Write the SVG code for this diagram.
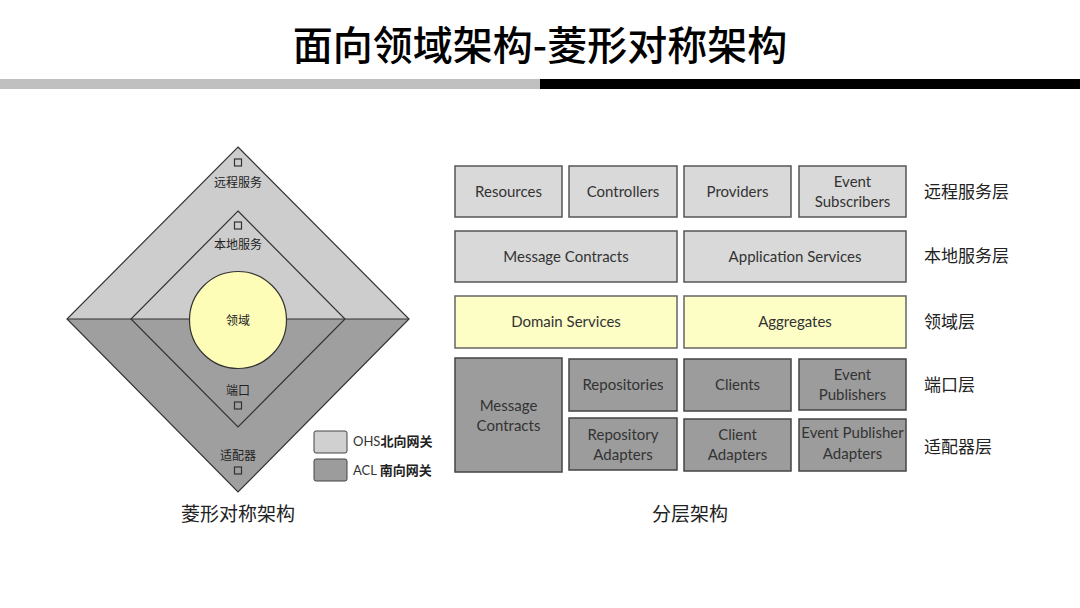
<svg xmlns="http://www.w3.org/2000/svg" width="1080" height="608" viewBox="0 0 1080 608">
<style>
.cjk{font-family:"Noto Sans CJK SC","Noto Sans",sans-serif;fill:#222}
.en{font-family:Lato,"Open Sans",sans-serif;font-size:15px;fill:#333;text-anchor:middle}
.lt{fill:#d9d9d9;stroke:#555;stroke-width:1.5}
.dk{fill:#9c9c9c;stroke:#444;stroke-width:1.5}
.yl{fill:#fdfdc6;stroke:#666;stroke-width:1.5}
.sq{fill:none;stroke:#333;stroke-width:1.2}
</style>
<rect width="1080" height="608" fill="#ffffff"/>
<text x="540" y="60" class="cjk" font-size="40" font-weight="500" text-anchor="middle" style="fill:#000">面向领域架构-菱形对称架构</text>
<rect x="0" y="79" width="540" height="10" fill="#c0c0c0"/>
<rect x="540" y="79" width="540" height="10" fill="#000"/>

<g id="diamond">
<polygon points="238,147 409,319 67,319" fill="#cdcdcd"/>
<polygon points="67,319 409,319 238,492" fill="#9f9f9f"/>
<polygon points="238,147 409,319 238,492 67,319" fill="none" stroke="#333" stroke-width="1.2"/>
<polygon points="238,211 345,319 238,427 131,319" fill="none" stroke="#333" stroke-width="1.2"/>
<line x1="67" y1="319" x2="409" y2="319" stroke="#333" stroke-width="1.2"/>
<circle cx="238" cy="320" r="48.5" fill="#fdfdb8" stroke="#333" stroke-width="1.2"/>
<rect x="234.5" y="159" width="7" height="7" class="sq"/>
<text x="238" y="187" class="cjk" font-size="12" text-anchor="middle">远程服务</text>
<rect x="234.5" y="222" width="7" height="7" class="sq"/>
<text x="238" y="249" class="cjk" font-size="12" text-anchor="middle">本地服务</text>
<text x="238" y="325" class="cjk" font-size="12" text-anchor="middle">领域</text>
<text x="238" y="395" class="cjk" font-size="12" text-anchor="middle">端口</text>
<rect x="234.5" y="402" width="7" height="7" class="sq"/>
<text x="238" y="460" class="cjk" font-size="12" text-anchor="middle">适配器</text>
<rect x="234.5" y="467" width="7" height="7" class="sq"/>
</g>

<g id="legend">
<rect x="314" y="431" width="33" height="22" rx="2" fill="#d0d0d0" stroke="#444" stroke-width="1"/>
<rect x="314" y="459" width="33" height="22" rx="2" fill="#9c9c9c" stroke="#444" stroke-width="1"/>
<text x="353" y="446" font-size="13" fill="#333"><tspan font-family="Lato,sans-serif">OHS</tspan><tspan class="cjk" font-weight="bold">北向网关</tspan></text>
<text x="353" y="475" font-size="13" fill="#333"><tspan font-family="Lato,sans-serif">ACL </tspan><tspan class="cjk" font-weight="bold">南向网关</tspan></text>
</g>
<text x="238" y="521" class="cjk" font-size="19" text-anchor="middle">菱形对称架构</text>

<g id="resources"><rect x="455" y="166" width="107" height="51" class="lt"/><text x="508.5" y="197" class="en">Resources</text></g>
<g id="controllers"><rect x="569" y="166" width="108" height="51" class="lt"/><text x="623" y="197" class="en">Controllers</text></g>
<g id="providers"><rect x="684" y="166" width="107" height="51" class="lt"/><text x="737.5" y="197" class="en">Providers</text></g>
<g id="eventSubscribers"><rect x="799" y="166" width="107" height="51" class="lt"/><text x="852.5" y="187" class="en">Event</text><text x="852.5" y="207" class="en">Subscribers</text></g>

<g id="messageContractsTop"><rect x="455" y="231" width="222" height="51" class="lt"/><text x="566" y="262" class="en">Message Contracts</text></g>
<g id="applicationServices"><rect x="684" y="231" width="222" height="51" class="lt"/><text x="795" y="262" class="en">Application Services</text></g>

<g id="domainServices"><rect x="455" y="296" width="222" height="52" class="yl"/><text x="566" y="327" class="en">Domain Services</text></g>
<g id="aggregates"><rect x="684" y="296" width="222" height="52" class="yl"/><text x="795" y="327" class="en">Aggregates</text></g>

<g id="messageContractsBottom"><rect x="455" y="358" width="107" height="114" class="dk"/><text x="508.5" y="411" class="en">Message</text><text x="508.5" y="431" class="en">Contracts</text></g>
<g id="repositories"><rect x="569" y="359" width="108" height="52" class="dk"/><text x="623" y="390" class="en">Repositories</text></g>
<g id="clients"><rect x="684" y="359" width="107" height="52" class="dk"/><text x="737.5" y="390" class="en">Clients</text></g>
<g id="eventPublishers"><rect x="799" y="359" width="107" height="51" class="dk"/><text x="852.5" y="380" class="en">Event</text><text x="852.5" y="400" class="en">Publishers</text></g>
<g id="repositoryAdapters"><rect x="569" y="418" width="108" height="52" class="dk"/><text x="623" y="440" class="en">Repository</text><text x="623" y="460" class="en">Adapters</text></g>
<g id="clientAdapters"><rect x="684" y="419" width="107" height="52" class="dk"/><text x="737.5" y="440" class="en">Client</text><text x="737.5" y="460" class="en">Adapters</text></g>
<g id="eventPublisherAdapters"><rect x="799" y="419" width="107" height="52" class="dk"/><text x="852.5" y="438" class="en">Event Publisher</text><text x="852.5" y="459" class="en">Adapters</text></g>

<g id="layerLabels">
<text x="924" y="198" class="cjk" font-size="17">远程服务层</text>
<text x="924" y="262" class="cjk" font-size="17">本地服务层</text>
<text x="924" y="328" class="cjk" font-size="17">领域层</text>
<text x="924" y="391" class="cjk" font-size="17">端口层</text>
<text x="924" y="453" class="cjk" font-size="17">适配器层</text>
</g>
<text x="690" y="521" class="cjk" font-size="19" text-anchor="middle">分层架构</text>
</svg>
